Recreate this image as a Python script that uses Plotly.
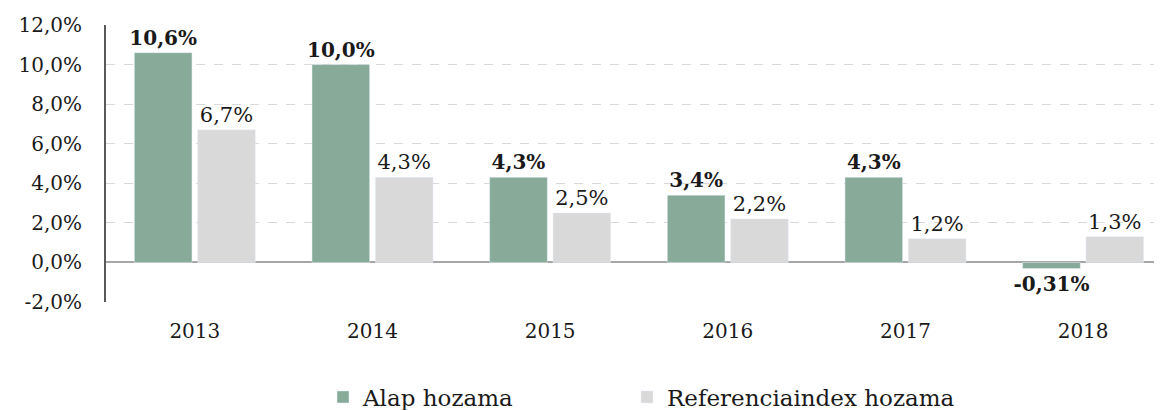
import plotly.graph_objects as go

years = ["2013", "2014", "2015", "2016", "2017", "2018"]
alap = [10.6, 10.0, 4.3, 3.4, 4.3, -0.31]
ref = [6.7, 4.3, 2.5, 2.2, 1.2, 1.3]
alap_labels = ["10,6%", "10,0%", "4,3%", "3,4%", "4,3%", "-0,31%"]
ref_labels = ["6,7%", "4,3%", "2,5%", "2,2%", "1,2%", "1,3%"]
yticks = [-2, 0, 2, 4, 6, 8, 10, 12]
ytick_text = ["-2,0%", "0,0%", "2,0%", "4,0%", "6,0%", "8,0%", "10,0%", "12,0%"]

FONT = "DejaVu Serif, Liberation Serif, serif"
TXT = "#1a1a1a"

fig = go.Figure()
fig.add_trace(go.Bar(
    x=years, y=alap, name="Alap hozama", marker_color="#87AB98",
    text=alap_labels, textposition="outside", cliponaxis=False,
    constraintext="none", legend="legend", showlegend=True,
    textfont=dict(family=FONT, size=20, color=TXT, weight="bold"),
))
fig.add_trace(go.Bar(
    x=years, y=ref, name="Referenciaindex hozama", marker_color="#D9D9D9",
    text=ref_labels, textposition="outside", cliponaxis=False,
    constraintext="none", legend="legend2", showlegend=True,
    textfont=dict(family=FONT, size=21, color=TXT),
))

leg_common = dict(orientation="h", xanchor="left", yanchor="middle", y=-0.343,
                  font=dict(family=FONT, size=23, color=TXT),
                  bgcolor="rgba(0,0,0,0)", itemwidth=30)

fig.update_layout(
    width=1154, height=402,
    margin=dict(l=98, r=0, t=17, b=108, autoexpand=False),
    paper_bgcolor="white", plot_bgcolor="white",
    barmode="group", bargap=0.287, bargroupgap=0.09,
    showlegend=True,
    font=dict(family=FONT, size=19, color=TXT),
    legend=dict(x=0.2055, **leg_common),
    legend2=dict(x=0.4934, **leg_common),
)
fig.update_xaxes(
    range=[-0.5, 5.444], showline=False, showgrid=False, ticks="",
    ticklabelstandoff=15, tickfont=dict(family=FONT, size=20, color=TXT),
)
fig.update_yaxes(
    range=[-2, 12], tickvals=yticks, ticktext=ytick_text,
    showline=True, linecolor="#595959", linewidth=2,
    showgrid=True, gridcolor="#D9D9D9", griddash="dash", gridwidth=1,
    zeroline=True, zerolinecolor="#A6A6A6", zerolinewidth=2,
    ticks="", ticklabelstandoff=18, tickfont=dict(family=FONT, size=20, color=TXT),
)

fig.write_html("out.html")
